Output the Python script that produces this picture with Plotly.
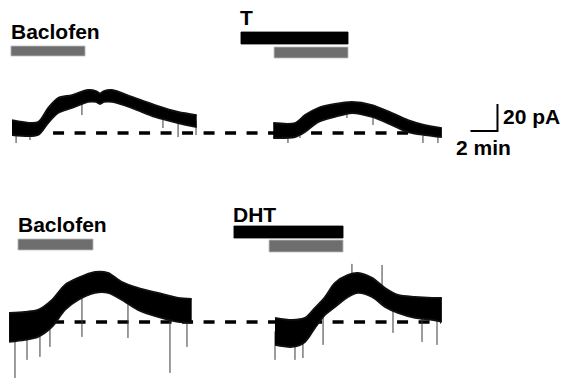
import numpy as np
import plotly.graph_objects as go

# ---------------- data (time in min, current in pA, relative to dashed baseline) -------------
# Top row, Baclofen control trace: envelope of the noisy recording
tl_t   = [0.89, 2.81, 3.56, 4.30, 5.33, 6.52, 7.11, 7.41, 7.70, 8.30, 9.78, 11.48, 13.19, 14.57]
tl_hi  = [9.6, 8.1, 18.5, 25.9, 28.1, 31.9, 31.1, 29.3, 31.1, 31.9, 26.7, 20.7, 15.6, 13.3]
tl_lo  = [-1.5, -1.5, 7.4, 14.8, 18.5, 23.0, 23.0, 21.5, 23.0, 23.0, 18.5, 11.9, 7.4, 4.4]
# Top row, Baclofen + T trace
tr_t   = [20.24, 21.85, 22.59, 23.56, 24.81, 26.07, 27.56, 29.04, 30.22, 31.48, 32.73]
tr_hi  = [7.4, 7.4, 13.3, 18.5, 21.5, 23.0, 20.7, 14.8, 9.6, 5.9, 3.7]
tr_lo  = [-3.7, -3.0, 0.7, 8.1, 11.9, 14.8, 11.9, 5.9, 0.7, -1.5, -3.0]
# Bottom row, Baclofen control trace
bl_t   = [0.67, 1.85, 2.81, 3.85, 4.81, 5.78, 7.04, 8.00, 9.04, 10.22, 11.70, 13.19, 14.20]
bl_hi  = [6.7, 7.4, 8.9, 16.3, 27.4, 32.6, 37.0, 36.3, 29.6, 25.2, 21.5, 17.8, 17.0]
bl_lo  = [-14.8, -13.3, -11.1, -3.7, 8.9, 16.3, 21.5, 21.5, 16.3, 8.9, 3.7, 0.0, -0.7]
# Bottom row, Baclofen + DHT trace
br_t   = [20.37, 21.63, 22.59, 23.33, 24.07, 24.81, 25.78, 26.52, 27.56, 28.52, 29.48, 30.74, 32.00, 32.73]
br_hi  = [3.0, 1.5, 3.0, 10.4, 18.5, 28.9, 34.8, 36.3, 32.6, 25.2, 20.0, 18.5, 17.8, 17.8]
br_lo  = [-17.0, -18.5, -14.8, -4.4, 5.2, 11.1, 18.5, 21.5, 18.5, 11.1, 6.7, 3.0, 1.5, 0.0]

# Individual spikes (time, tip current)
tl_spk_t = [1.19, 2.22, 6.07, 12.07, 13.19, 14.52]
tl_spk_i = [-7.4, -5.2, 13.3, 3.7, -3.0, -1.5]
tr_spk_t = [21.33, 22.22, 25.70, 27.63, 31.33, 32.44]
tr_spk_i = [-7.4, -3.7, 11.1, 5.9, -7.4, -7.4]
bl_spk_t = [1.11, 2.00, 2.96, 3.70, 6.07, 9.48, 12.59, 13.85]
bl_spk_i = [-41.5, -28.1, -25.9, -18.5, -11.1, -11.9, -37.8, -18.5]
br_spk_t = [20.37, 21.85, 22.44, 23.93, 26.07, 28.30, 29.11, 31.26, 32.37]
br_spk_i = [-28.1, -28.1, -26.7, -17.0, 43.0, 42.2, -8.1, -14.8, -17.0]

# Drug application periods (min)
top_baclofen = (0.81, 6.30)
top_t        = (17.85, 25.78)
top_bac2     = (20.30, 25.78)
bot_baclofen = (1.33, 6.89)
bot_dht      = (17.33, 25.41)
bot_bac2     = (19.93, 25.41)

baseline_span = (3.93, 32.65)   # dashed zero-current line
scale_t, scale_i = 2, 20         # scale bar: 2 min, 20 pA

# ---------------- layout constants ----------------
W, H = 562, 380
PX_PER_MIN = 13.5
BLACK, GREY = "#000000", "#6e6e6e"

fig = go.Figure()

def band(t, hi, lo, yaxis):
    edge = dict(color="#111111", width=1.8, shape="spline", smoothing=0.8)
    fig.add_trace(go.Scatter(x=t, y=lo, mode="lines", line=edge,
                             yaxis=yaxis, hoverinfo="skip", showlegend=False))
    fig.add_trace(go.Scatter(x=t, y=hi, mode="lines", line=edge,
                             fill="tonexty", fillcolor=BLACK,
                             yaxis=yaxis, hoverinfo="skip", showlegend=False))

def spikes(t_env, hi, lo, st, si, yaxis):
    center = (np.array(hi) + np.array(lo)) / 2
    xs, ys = [], []
    for t, tip in zip(st, si):
        base = float(np.interp(t, t_env, center))
        xs += [t, t, None]
        ys += [base, tip, None]
    fig.add_trace(go.Scatter(x=xs, y=ys, mode="lines",
                             line=dict(color="#3a3a3a", width=1),
                             yaxis=yaxis, hoverinfo="skip", showlegend=False))

# dashed baselines (drawn first, beneath traces)
for ya in ("y", "y2"):
    fig.add_trace(go.Scatter(x=list(baseline_span), y=[0, 0], mode="lines",
                             line=dict(color=BLACK, width=3.5, dash="11px,10.5px"),
                             yaxis=ya, hoverinfo="skip", showlegend=False))

spikes(tl_t, tl_hi, tl_lo, tl_spk_t, tl_spk_i, "y")
spikes(tr_t, tr_hi, tr_lo, tr_spk_t, tr_spk_i, "y")
spikes(bl_t, bl_hi, bl_lo, bl_spk_t, bl_spk_i, "y2")
spikes(br_t, br_hi, br_lo, br_spk_t, br_spk_i, "y2")
band(tl_t, tl_hi, tl_lo, "y")
band(tr_t, tr_hi, tr_lo, "y")
band(bl_t, bl_hi, bl_lo, "y2")
band(br_t, br_hi, br_lo, "y2")

# scale bar (top row axis units)
corner_t, corner_i = 36.85, 1.5
fig.add_trace(go.Scatter(x=[corner_t - scale_t, corner_t, corner_t],
                         y=[corner_i, corner_i, corner_i + scale_i],
                         mode="lines", line=dict(color=BLACK, width=2),
                         yaxis="y", hoverinfo="skip", showlegend=False))

def bar(span, ytop_px, ybot_px, color):
    fig.add_shape(type="rect", xref="x", yref="paper",
                  x0=span[0], x1=span[1], y0=1 - ybot_px / H, y1=1 - ytop_px / H,
                  fillcolor=color, line=dict(width=0.8, color="#bdbdbd" if color == GREY else BLACK),
                  layer="above")

bar(top_baclofen, 46, 56, GREY)
bar(top_t, 32, 44, BLACK)
bar(top_bac2, 47, 58, GREY)
bar(bot_baclofen, 239, 250, GREY)
bar(bot_dht, 226, 238, BLACK)
bar(bot_bac2, 240, 252, GREY)

FONT = dict(family="Liberation Sans, Arial, sans-serif", size=21, color=BLACK)

def label(text, x, y_px, xanchor="left", xref="x"):
    fig.add_annotation(text="<b>%s</b>" % text, x=x, xref=xref, xanchor=xanchor,
                       y=1 - y_px / H, yref="paper", yanchor="middle",
                       showarrow=False, font=FONT, borderpad=0)

label("Baclofen", top_baclofen[0] - 0.08, 31.5)
label("T", top_t[0] - 0.12, 17)
label("Baclofen", bot_baclofen[0] - 0.08, 224.5)
label("DHT", bot_dht[0] - 0.12, 214)
label("20 pA", corner_t + 0.33, 117)
label("2 min", corner_t - scale_t / 2, 147, xanchor="center")

fig.update_layout(
    width=W, height=H, autosize=False,
    margin=dict(l=0, r=0, t=0, b=0),
    paper_bgcolor="white", plot_bgcolor="white",
    xaxis=dict(range=[0, W / PX_PER_MIN], visible=False, fixedrange=True),
    yaxis=dict(domain=[0.5, 1], range=[-42.2, 98.5], visible=False, fixedrange=True),
    yaxis2=dict(domain=[0, 0.5], range=[-43.0, 97.7], visible=False, fixedrange=True),
    showlegend=False,
)

fig.write_html("out.html", config={"displayModeBar": False, "staticPlot": True},
               post_script="document.body.style.margin='0';document.body.style.padding='0';"
                           "document.body.style.overflow='hidden';")
